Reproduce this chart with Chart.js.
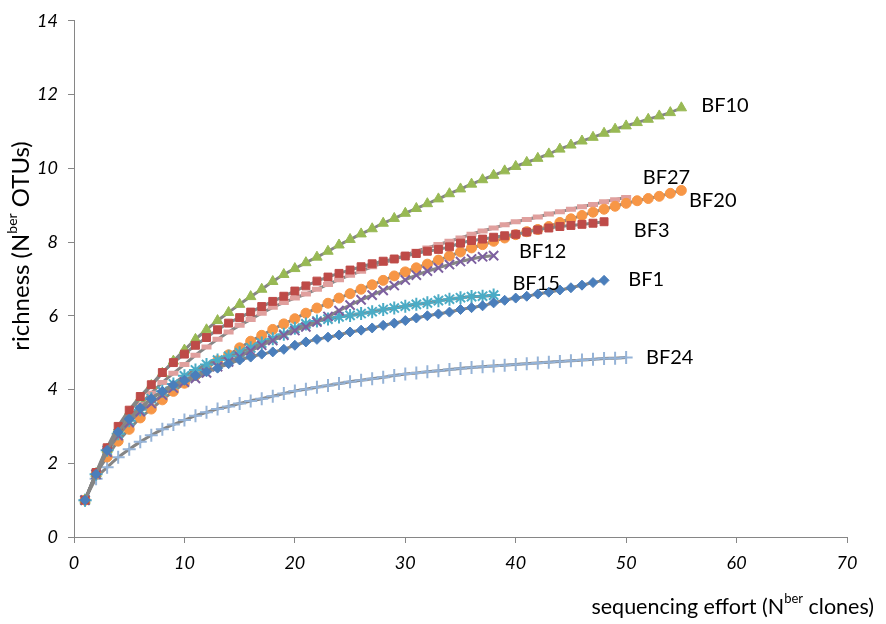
<!DOCTYPE html>
<html>
<head>
<meta charset="utf-8">
<script src="https://cdn.jsdelivr.net/npm/chart.js@4"></script>
<style>
  html, body { margin: 0; padding: 0; background: #ffffff; }
  #wrap { width: 886px; height: 624px; position: relative; }
</style>
</head>
<body>
<div id="wrap"><canvas id="c" width="886" height="624"></canvas></div>
<script>
// ---- data (richness at sequencing effort 1, 2, 3, ...) ----
const seriesNames = ["BF1", "BF3", "BF10", "BF12", "BF15", "BF20", "BF24", "BF27"];
const bf1 = [1, 1.7, 2.35, 2.85, 3.2, 3.5, 3.75, 3.95, 4.12, 4.25, 4.38, 4.48, 4.58, 4.70, 4.80, 4.88, 4.96, 5.02, 5.09,
  5.20, 5.29, 5.36, 5.42, 5.48, 5.56, 5.61, 5.67, 5.74, 5.80, 5.87, 5.94, 6.00, 6.05, 6.10, 6.17, 6.22, 6.27, 6.35, 6.42,
  6.48, 6.53, 6.59, 6.64, 6.70, 6.76, 6.83, 6.90, 6.96];
const bf3 = [1, 1.75, 2.42, 3.0, 3.44, 3.81, 4.13, 4.46, 4.73, 4.96, 5.2, 5.41, 5.62, 5.8, 5.95, 6.1, 6.25, 6.39, 6.53,
  6.67, 6.81, 6.94, 7.05, 7.15, 7.24, 7.33, 7.41, 7.48, 7.54, 7.62, 7.69, 7.75, 7.80, 7.87, 7.97, 8.04, 8.08, 8.13, 8.17,
  8.21, 8.27, 8.33, 8.38, 8.42, 8.45, 8.48, 8.51, 8.55];
const bf10 = [1, 1.72, 2.38, 2.92, 3.38, 3.77, 4.11, 4.44, 4.77, 5.07, 5.36, 5.62, 5.87, 6.09, 6.31, 6.52, 6.72, 6.93,
  7.12, 7.28, 7.44, 7.59, 7.75, 7.92, 8.07, 8.22, 8.36, 8.51, 8.64, 8.78, 8.91, 9.04, 9.17, 9.31, 9.44, 9.57, 9.69, 9.81,
  9.93, 10.05, 10.16, 10.27, 10.39, 10.52, 10.63, 10.74, 10.84, 10.95, 11.06, 11.15, 11.24, 11.33, 11.42, 11.51, 11.64];
const bf12 = [1, 1.7, 2.3, 2.75, 3.1, 3.4, 3.62, 3.85, 4.04, 4.2, 4.3, 4.45, 4.62, 4.75, 4.89, 5.05, 5.2, 5.33, 5.47,
  5.6, 5.7, 5.83, 5.98, 6.14, 6.29, 6.43, 6.56, 6.69, 6.82, 6.97, 7.1, 7.21, 7.3, 7.39, 7.47, 7.54, 7.6, 7.63];
const bf15 = [1, 1.7, 2.35, 2.8, 3.15, 3.45, 3.75, 3.95, 4.15, 4.37, 4.53, 4.68, 4.80, 4.90, 5.00, 5.13, 5.26, 5.38,
  5.50, 5.66, 5.78, 5.86, 5.91, 5.97, 6.01, 6.06, 6.11, 6.17, 6.21, 6.26, 6.31, 6.35, 6.41, 6.45, 6.49, 6.52, 6.53, 6.56];
const bf20 = [1, 1.7, 2.17, 2.6, 2.92, 3.23, 3.47, 3.72, 3.95, 4.17, 4.38, 4.57, 4.78, 4.94, 5.13, 5.31, 5.47, 5.63,
  5.78, 5.92, 6.07, 6.21, 6.34, 6.48, 6.60, 6.72, 6.84, 6.96, 7.08, 7.19, 7.30, 7.40, 7.51, 7.62, 7.73, 7.84, 7.93, 8.02,
  8.11, 8.20, 8.28, 8.34, 8.42, 8.53, 8.63, 8.72, 8.81, 8.89, 8.97, 9.05, 9.12, 9.18, 9.24, 9.32, 9.40];
const bf24 = [1, 1.58, 1.89, 2.16, 2.38, 2.58, 2.76, 2.92, 3.05, 3.17, 3.29, 3.38, 3.47, 3.54, 3.62, 3.69, 3.75, 3.82,
  3.89, 3.96, 4.01, 4.06, 4.11, 4.16, 4.21, 4.25, 4.29, 4.33, 4.38, 4.42, 4.45, 4.48, 4.51, 4.54, 4.57, 4.60, 4.62, 4.64,
  4.66, 4.68, 4.70, 4.72, 4.74, 4.76, 4.78, 4.80, 4.82, 4.84, 4.85, 4.87];
const bf27 = [1, 1.71, 2.31, 2.78, 3.2, 3.59, 3.9, 4.19, 4.44, 4.68, 4.93, 5.15, 5.36, 5.56, 5.74, 5.9, 6.07, 6.23,
  6.36, 6.48, 6.59, 6.72, 6.85, 6.98, 7.1, 7.21, 7.33, 7.43, 7.53, 7.64, 7.75, 7.84, 7.93, 8.02, 8.11, 8.21, 8.30, 8.38,
  8.47, 8.55, 8.61, 8.68, 8.76, 8.82, 8.89, 8.96, 9.02, 9.09, 9.15, 9.21];
const xTicks = [0, 10, 20, 30, 40, 50, 60, 70];
const yTicks = [0, 2, 4, 6, 8, 10, 12, 14];
// label anchors in data units (effort, richness)
const labelX = [50.2, 50.7, 56.8, 40.3, 39.7, 55.7, 51.8, 51.5];
const labelY = [6.97, 8.30, 11.71, 7.73, 6.87, 9.13, 4.88, 9.74];

const seriesValues = [bf1, bf3, bf10, bf12, bf15, bf20, bf24, bf27];
const styles = [
  { pointStyle: 'rectRot', radius: 5, color: '#4A7EBB', bw: 1 },
  { pointStyle: 'rect', radius: 5.6, color: '#BE4B48', bw: 1 },
  { pointStyle: 'triangle', radius: 6, color: '#98B954', bw: 1 },
  { pointStyle: 'crossRot', radius: 6.5, color: '#7D60A0', bw: 2 },
  { pointStyle: 'star', radius: 6.5, color: '#4BACC6', bw: 2 },
  { pointStyle: 'circle', radius: 5, color: '#F79646', bw: 1 },
  { pointStyle: 'cross', radius: 6.5, color: '#95B3D7', bw: 2 },
  { pointStyle: 'line', radius: 5, color: '#E0A09E', bw: 5 }
];

const datasets = seriesValues.map((vals, k) => ({
  label: seriesNames[k],
  data: vals.map((v, i) => ({ x: i + 1, y: v })),
  borderColor: '#858585',
  borderWidth: 3,
  tension: 0.35,
  fill: false,
  pointStyle: styles[k].pointStyle,
  pointRadius: styles[k].radius,
  pointHoverRadius: styles[k].radius,
  pointBackgroundColor: styles[k].color,
  pointBorderColor: styles[k].color,
  pointBorderWidth: styles[k].bw
}));

const seriesLabels = {
  id: 'seriesLabels',
  afterDatasetsDraw(chart) {
    const { ctx, scales } = chart;
    ctx.save();
    ctx.fillStyle = '#000000';
    ctx.font = '20px Lato';
    ctx.textAlign = 'left';
    ctx.textBaseline = 'middle';
    seriesNames.forEach((n, k) => {
      ctx.fillText(n, scales.x.getPixelForValue(labelX[k]), scales.y.getPixelForValue(labelY[k]));
    });
    ctx.restore();
  }
};

function drawSup(ctx, parts, x, y, size) {
  let cx = x;
  parts.forEach(([t, sup]) => {
    ctx.font = (sup ? Math.round(size * 0.6) : size) + 'px Lato';
    ctx.fillText(t, cx, sup ? y - size * 0.36 : y);
    cx += ctx.measureText(t).width;
  });
  return cx - x;
}
function measureSup(ctx, parts, size) {
  let w = 0;
  parts.forEach(([t, sup]) => {
    ctx.font = (sup ? Math.round(size * 0.6) : size) + 'px Lato';
    w += ctx.measureText(t).width;
  });
  return w;
}

const axisTitles = {
  id: 'axisTitles',
  afterDraw(chart) {
    const { ctx } = chart;
    ctx.save();
    ctx.fillStyle = '#000000';
    ctx.textAlign = 'left';
    ctx.textBaseline = 'middle';
    const xParts = [['sequencing effort (N', false], ['ber', true], [' clones)', false]];
    const xs = 21.5;
    const xw = measureSup(ctx, xParts, xs);
    drawSup(ctx, xParts, 874 - xw, 607, xs);
    const yParts = [['richness (N', false], ['ber', true], [' OTUs)', false]];
    const ys = 24;
    const yw = measureSup(ctx, yParts, ys);
    ctx.translate(21, 246);
    ctx.rotate(-Math.PI / 2);
    drawSup(ctx, yParts, -yw / 2, 0, ys);
    ctx.restore();
  }
};

new Chart(document.getElementById('c'), {
  type: 'line',
  data: { datasets },
  plugins: [seriesLabels, axisTitles],
  options: {
    responsive: false,
    animation: false,
    events: [],
    layout: { padding: { top: 16, right: 39, left: 0, bottom: 0 } },
    plugins: { legend: { display: false }, tooltip: { enabled: false } },
    scales: {
      x: {
        type: 'linear',
        min: 0, max: 70,
        afterFit(s) { s.height = 87; },
        afterBuildTicks(s) { s.ticks = xTicks.map(v => ({ value: v })); },
        grid: { display: true, drawOnChartArea: false, drawTicks: true, tickLength: 6, color: '#868686' },
        border: { color: '#868686', width: 1 },
        ticks: { color: '#000000', padding: 9, font: { family: 'Lato', size: 18, style: 'italic' } }
      },
      y: {
        type: 'linear',
        min: 0, max: 14,
        afterFit(s) { s.width = 74; },
        afterBuildTicks(s) { s.ticks = yTicks.map(v => ({ value: v })); },
        grid: { display: true, drawOnChartArea: false, drawTicks: true, tickLength: 6, color: '#868686' },
        border: { color: '#868686', width: 1 },
        ticks: { color: '#000000', padding: 10, font: { family: 'Lato', size: 18, style: 'italic' } }
      }
    }
  }
});
</script>
</body>
</html>
